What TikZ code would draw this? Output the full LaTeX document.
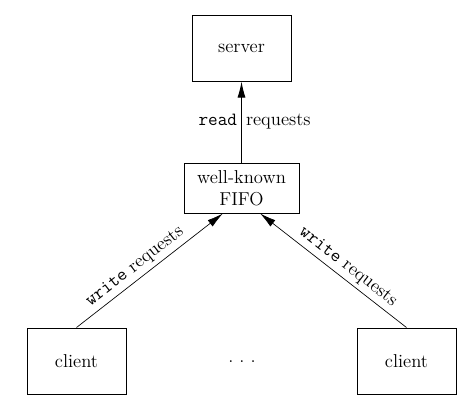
\documentclass[tikz,border=0pt]{standalone}
\usepackage{tikz}
\usetikzlibrary{arrows.meta}
\tikzset{
  box/.style={draw, line width=0.75pt, minimum width=74.25pt, font=\fontsize{14}{16.5}\selectfont, align=center},
  req/.style={-{Latex[length=12pt,width=6pt]}},
  lbl/.style={font=\fontsize{14}{16.5}\selectfont, inner sep=3pt, text height=1.6ex, text depth=0.4ex}
}

\begin{document}
\begin{tikzpicture}[x=0.75pt, y=-0.75pt]
			%%%%% START %%%%%
			
			\useasboundingbox (0, 0) rectangle (470, 408);
			
			\node[box, minimum height=49.5pt] (srv) at (241.5, 48) {server};
			\node[box, minimum width=86.25pt, minimum height=37.5pt] (fifo) at (241.5, 188) {well-known\\FIFO};
			
			\node[box, minimum height=49.5pt] (cl1) at (76.5, 361) {client};
			\node[box, minimum height=49.5pt] (cl2) at (406.5, 361) {client};
			\node[lbl] (dots) at (242, 359) {.\ .\ .};
			
			\draw[req, line width=0.75pt] (fifo.north) -- (srv.south)
				node[lbl, pos=0.5, left] {\texttt{read}}
				node[lbl, pos=0.5, right] {requests};
			
			\draw[req, line width=0.5pt] (cl1.north) -- ([xshift=-14pt]fifo.south)
				node[lbl, pos=0.45, sloped, above, inner sep=4pt] {\texttt{write} requests};
			\draw[req, line width=0.5pt] (cl2.north) -- ([xshift=14pt]fifo.south)
				node[lbl, pos=0.45, sloped, above, inner sep=4pt] {\texttt{write} requests};
			
			%%%%% END %%%%%
\end{tikzpicture}
\end{document}
